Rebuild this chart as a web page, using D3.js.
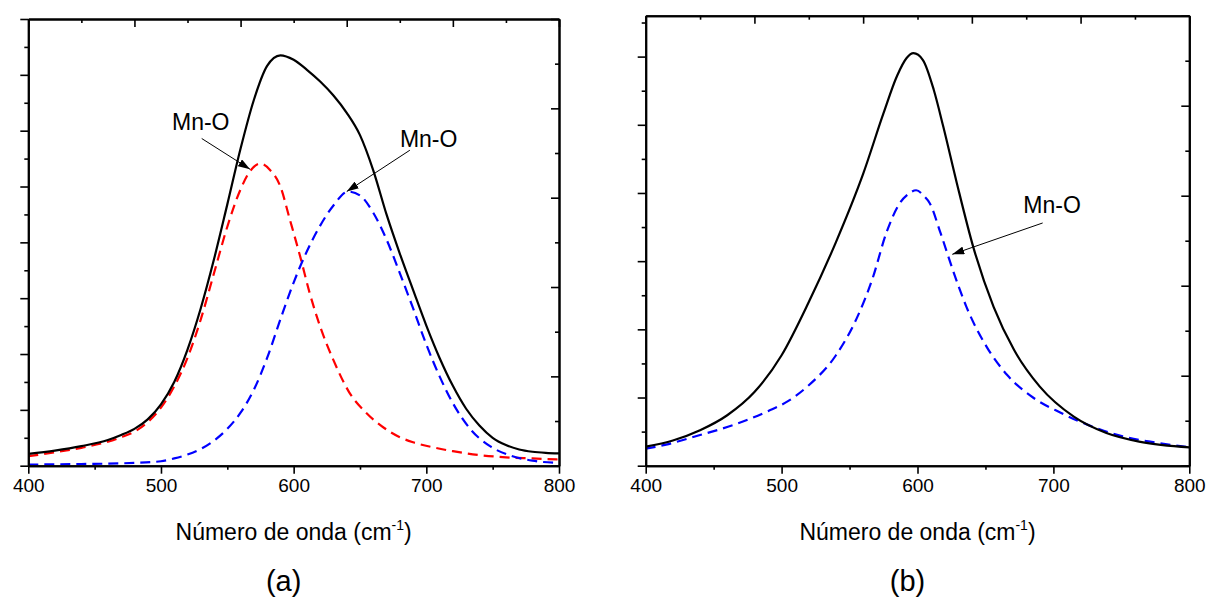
<!DOCTYPE html>
<html><head><meta charset="utf-8">
<script src="https://cdn.jsdelivr.net/npm/d3@7"></script>
<style>
body{margin:0;background:#fff}
text{font-family:"Liberation Sans",Arial,Helvetica,sans-serif;fill:#000}
</style>
</head><body>
<svg id="c" width="1207" height="599"></svg>
<script>
// ---------- data ----------
const xTicks = [400, 500, 600, 700, 800];
const xMinor = [450, 550, 650, 750];
const xTitle = "Número de onda (cm";
const xTitleSup = "-1";
const panelLabels = ["(a)", "(b)"];
const annotationText = "Mn-O";

// panel (a)
const aTotalX = [400,420,440,460,470,480,490,500,510,520,530,540,550,560,570,580,590,600,610,620,630,640,650,660,670,680,690,700,710,720,730,740,750,760,770,780,790,800];
const aTotalY = [0.21,0.27,0.35,0.46,0.55,0.66,0.83,1.10,1.50,2.08,2.82,3.70,4.68,5.68,6.55,7.16,7.35,7.27,7.09,6.88,6.63,6.32,5.92,5.29,4.50,3.80,3.15,2.51,1.93,1.43,1.02,0.72,0.50,0.37,0.29,0.25,0.23,0.22];
const aRedX = [400,420,440,460,470,480,490,500,510,520,530,540,550,560,567,575,582,590,597,605,612,620,630,642,655,668,680,690,703,720,740,760,780,800];
const aRedY = [0.17,0.24,0.32,0.43,0.51,0.61,0.78,1.04,1.42,1.93,2.62,3.45,4.28,4.95,5.27,5.41,5.30,5.00,4.42,3.74,3.10,2.49,1.89,1.31,0.94,0.68,0.51,0.42,0.34,0.26,0.19,0.15,0.13,0.11];
const aBlueX = [400,440,480,500,510,520,530,540,550,560,570,580,590,600,610,620,630,641,650,660,670,680,690,700,710,720,733,748,765,780,800];
const aBlueY = [0.02,0.03,0.05,0.08,0.13,0.20,0.30,0.45,0.66,0.95,1.36,1.93,2.62,3.28,3.84,4.30,4.66,4.91,4.84,4.53,4.05,3.45,2.82,2.17,1.60,1.12,0.66,0.35,0.17,0.09,0.05];

// panel (b)
const bTotalX = [400,420,440,460,480,500,520,540,560,575,585,592,597,604,612,619,629,641,656,671,690,715,739,764,800];
const bTotalY = [0.28,0.37,0.52,0.74,1.08,1.62,2.40,3.28,4.28,5.17,5.72,5.98,6.05,5.95,5.51,4.97,4.14,3.21,2.33,1.70,1.16,0.72,0.48,0.35,0.27];
const bBlueX = [400,415,440,465,490,505,520,540,555,567,577,587,593,599,605,609,617,626,636,651,666,685,705,729,751,775,800];
const bBlueY = [0.25,0.31,0.45,0.60,0.80,0.95,1.18,1.62,2.15,2.75,3.41,3.85,3.98,4.04,3.95,3.85,3.41,2.87,2.33,1.74,1.33,1.00,0.78,0.57,0.43,0.34,0.27];

// annotations in data units: text anchor (x,y), arrow start, arrow tip
const aAnnX = [508.3, 680.1];
const aAnnY = [6.01, 5.71];
const aArrowFromX = [530.7, 687.6];
const aArrowFromY = [5.86, 5.65];
const aArrowToX = [567.1, 640.0];
const aArrowToY = [5.31, 4.91];
const bAnnX = [677.9];
const bAnnY = [3.71];
const bArrowFromX = [692.1];
const bArrowFromY = [3.56];
const bArrowToX = [625.6];
const bArrowToY = [3.10];

// ---------- drawing ----------
const svg = d3.select("#c");
svg.append("defs").append("marker")
  .attr("id","arrow").attr("markerUnits","userSpaceOnUse")
  .attr("viewBox","0 0 12 8").attr("refX",12).attr("refY",4)
  .attr("markerWidth",12).attr("markerHeight",8).attr("orient","auto")
  .append("path").attr("d","M0,0 L12,4 L0,8 Z").attr("fill","#000");

const panels = [
  {x0:28.3, x1:559, yTop:19, yBot:465.7, yMax:8, label:panelLabels[0],
   series:[{x:aRedX,y:aRedY,color:"#ff0000",dash:"10,6"},
           {x:aBlueX,y:aBlueY,color:"#0000ff",dash:"10,6"},
           {x:aTotalX,y:aTotalY,color:"#000",dash:null}],
   ann:{tx:aAnnX,ty:aAnnY,fx:aArrowFromX,fy:aArrowFromY,ex:aArrowToX,ey:aArrowToY}},
  {x0:645.7, x1:1189.3, yTop:15.7, yBot:465.7, yMax:6.6, label:panelLabels[1],
   series:[{x:bBlueX,y:bBlueY,color:"#0000ff",dash:"10,6"},
           {x:bTotalX,y:bTotalY,color:"#000",dash:null}],
   ann:{tx:bAnnX,ty:bAnnY,fx:bArrowFromX,fy:bArrowFromY,ex:bArrowToX,ey:bArrowToY}}
];

function styleAxis(g){
  g.selectAll(".domain").attr("stroke","#000").attr("stroke-width",2);
  g.selectAll(".tick line").attr("stroke","#000").attr("stroke-width",1.6);
}

panels.forEach(p=>{
  const x = d3.scaleLinear().domain([400,800]).range([p.x0,p.x1]);
  const y = d3.scaleLinear().domain([0,p.yMax]).range([p.yBot,p.yTop]);
  const xTop = d3.scaleLinear().domain([0,5]).range([p.x0,p.x1]);
  const yRight = d3.scaleLinear().domain([0,5]).range([p.yBot,p.yTop]);
  const g = svg.append("g");

  // curves
  const line = d3.line().x(d=>x(d[0])).y(d=>y(d[1])).curve(d3.curveMonotoneX);
  p.series.forEach(s=>{
    const pts = s.x.map((v,i)=>[v,s.y[i]]);
    g.append("path").datum(pts).attr("d",line)
      .attr("fill","none").attr("stroke",s.color).attr("stroke-width",2.2)
      .attr("stroke-dasharray",s.dash);
  });

  // bottom axis
  const bottom = g.append("g").attr("transform",`translate(0,${p.yBot})`)
    .call(d3.axisBottom(x).tickValues(xTicks).tickSize(8).tickSizeOuter(0).tickPadding(5));
  bottom.selectAll("text").attr("font-size",19).attr("font-family","Liberation Sans, Arial, sans-serif");
  styleAxis(bottom);
  const bottomMinor = g.append("g").attr("transform",`translate(0,${p.yBot})`)
    .call(d3.axisBottom(x).tickValues(xMinor).tickSize(4).tickSizeOuter(0).tickFormat(""));
  styleAxis(bottomMinor);

  // top axis (inward ticks)
  const topMaj = d3.range(0,6,1), topMin = d3.range(0.5,5,1);
  const top = g.append("g").attr("transform",`translate(0,${p.yTop})`)
    .call(d3.axisTop(xTop).tickValues(topMaj).tickSize(-8).tickSizeOuter(0).tickFormat(""));
  styleAxis(top);
  const topMinor = g.append("g").attr("transform",`translate(0,${p.yTop})`)
    .call(d3.axisTop(xTop).tickValues(topMin).tickSize(-4).tickSizeOuter(0).tickFormat(""));
  styleAxis(topMinor);

  // left axis (outward, no labels)
  const leftMaj = d3.range(0, Math.floor(p.yMax)+1, 1);
  const leftMin = d3.range(0.5, p.yMax, 1);
  const left = g.append("g").attr("transform",`translate(${p.x0},0)`)
    .call(d3.axisLeft(y).tickValues(leftMaj).tickSize(8).tickSizeOuter(0).tickFormat(""));
  styleAxis(left);
  const leftMinor = g.append("g").attr("transform",`translate(${p.x0},0)`)
    .call(d3.axisLeft(y).tickValues(leftMin).tickSize(4).tickSizeOuter(0).tickFormat(""));
  styleAxis(leftMinor);

  // right axis (inward)
  const right = g.append("g").attr("transform",`translate(${p.x1},0)`)
    .call(d3.axisRight(yRight).tickValues(d3.range(0,6,1)).tickSize(-8).tickSizeOuter(0).tickFormat(""));
  styleAxis(right);
  const rightMinor = g.append("g").attr("transform",`translate(${p.x1},0)`)
    .call(d3.axisRight(yRight).tickValues(d3.range(0.5,5,1)).tickSize(-4).tickSizeOuter(0).tickFormat(""));
  styleAxis(rightMinor);

  // axis title
  const cx = (p.x0+p.x1)/2;
  const t = g.append("text").attr("x",cx).attr("y",540).attr("text-anchor","middle").attr("font-size",23);
  t.append("tspan").text(xTitle);
  t.append("tspan").attr("font-size",14).attr("dy",-10).text(xTitleSup);
  t.append("tspan").attr("dy",10).text(")");

  // panel label
  g.append("text").attr("x",cx-10).attr("y",591).attr("text-anchor","middle").attr("font-size",29).text(p.label);

  // annotations
  const a = p.ann;
  a.tx.forEach((tx,i)=>{
    g.append("text").attr("x",x(tx)).attr("y",y(a.ty[i])).attr("font-size",23).text(annotationText);
    g.append("line").attr("x1",x(a.fx[i])).attr("y1",y(a.fy[i]))
      .attr("x2",x(a.ex[i])).attr("y2",y(a.ey[i]))
      .attr("stroke","#000").attr("stroke-width",1).attr("marker-end","url(#arrow)");
  });
});
</script>
</body></html>
